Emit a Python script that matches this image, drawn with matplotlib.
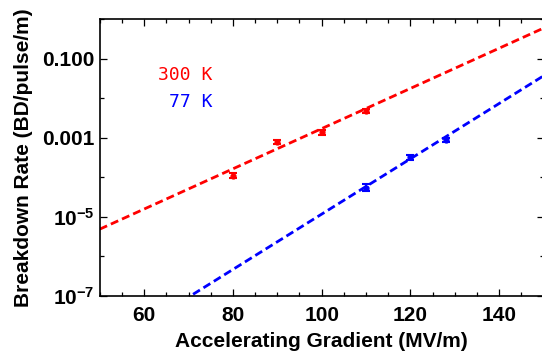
import numpy as np
import matplotlib
matplotlib.use("Agg")
import matplotlib.pyplot as plt
from matplotlib.ticker import FixedLocator, MultipleLocator, NullFormatter

# ============================================
# Data
# ============================================

E_300K   = [80, 90, 100, 110]
BDR_300K = [1.1e-4, 7.7e-4, 1.38e-3, 4.75e-3]
ERR_300K = [1.5e-5, 9e-5, 2.2e-4, 5e-4]

E_77K    = [110, 120, 128]
BDR_77K  = [5.5e-5, 3.2e-4, 8.8e-4]
ERR_77K  = [1.1e-5, 4e-5, 1e-4]

# exponential fits: log10(BDR) = a + b * E
FIT_300K = (-7.85, 0.0508)
FIT_77K  = (-11.92, 0.0699)

Y_TICKS  = [1e-7, 1e-5, 1e-3, 1e-1]
Y_LABELS = ["$10^{-7}$", "$10^{-5}$", "0.001", "0.100"]

RED  = "#ff0000"
BLUE = "#0000ff"

# ============================================
# Style
# ============================================

plt.rcParams["font.family"] = "Liberation Sans"
plt.rcParams["font.weight"] = "bold"
plt.rcParams["mathtext.fontset"] = "custom"
plt.rcParams["mathtext.rm"] = "Liberation Sans:bold"
plt.rcParams["mathtext.it"] = "Liberation Sans:bold"
plt.rcParams["mathtext.bf"] = "Liberation Sans:bold"

fig = plt.figure(figsize=(5.42, 3.58), dpi=100)
ax = fig.add_axes([0.184, 0.173, 0.819, 0.774])

# ============================================
# Fit lines and points
# ============================================

E_line = np.linspace(50, 150, 200)
for (a, b), col in [(FIT_300K, RED), (FIT_77K, BLUE)]:
    ax.plot(E_line, 10 ** (a + b * E_line), ls="--", color=col, lw=2.0,
            dashes=(2.9, 1.5))

ax.errorbar(E_300K, BDR_300K, yerr=ERR_300K, fmt="o", color=RED, ms=3.5,
            elinewidth=1.5, capsize=3, capthick=1.5)
ax.errorbar(E_77K, BDR_77K, yerr=ERR_77K, fmt="o", color=BLUE, ms=3.5,
            elinewidth=1.5, capsize=3, capthick=1.5)

ax.text(75.3, 10 ** -1.41, "300 K", color=RED, ha="right", va="center",
        fontsize=13, family="DejaVu Sans Mono", fontweight="normal")
ax.text(75.3, 10 ** -2.10, "77 K", color=BLUE, ha="right", va="center",
        fontsize=13, family="DejaVu Sans Mono", fontweight="normal")

# ============================================
# Axes
# ============================================

ax.set_yscale("log")
ax.set_xlim(50, 150)
ax.set_ylim(1e-7, 1)

ax.xaxis.set_major_locator(MultipleLocator(20))
ax.xaxis.set_minor_locator(MultipleLocator(5))
ax.yaxis.set_major_locator(FixedLocator(Y_TICKS))
ax.yaxis.set_minor_locator(FixedLocator([1e-6, 1e-4, 1e-2, 1]))
ax.yaxis.set_minor_formatter(NullFormatter())
ax.set_yticklabels(Y_LABELS)

ax.tick_params(which="both", direction="in", top=True, right=True,
               labelsize=15, width=0.9)
ax.tick_params(which="major", length=5)
ax.tick_params(which="minor", length=3)
ax.tick_params(axis="x", pad=7)
ax.tick_params(axis="y", pad=4)
for s in ax.spines.values():
    s.set_linewidth(1.2)

ax.set_xlabel("Accelerating Gradient (MV/m)", fontsize=15, fontweight="bold",
              labelpad=5)
ax.set_ylabel("Breakdown Rate (BD/pulse/m)", fontsize=15, fontweight="bold",
              labelpad=6)

fig.savefig("out.png", dpi=100)
